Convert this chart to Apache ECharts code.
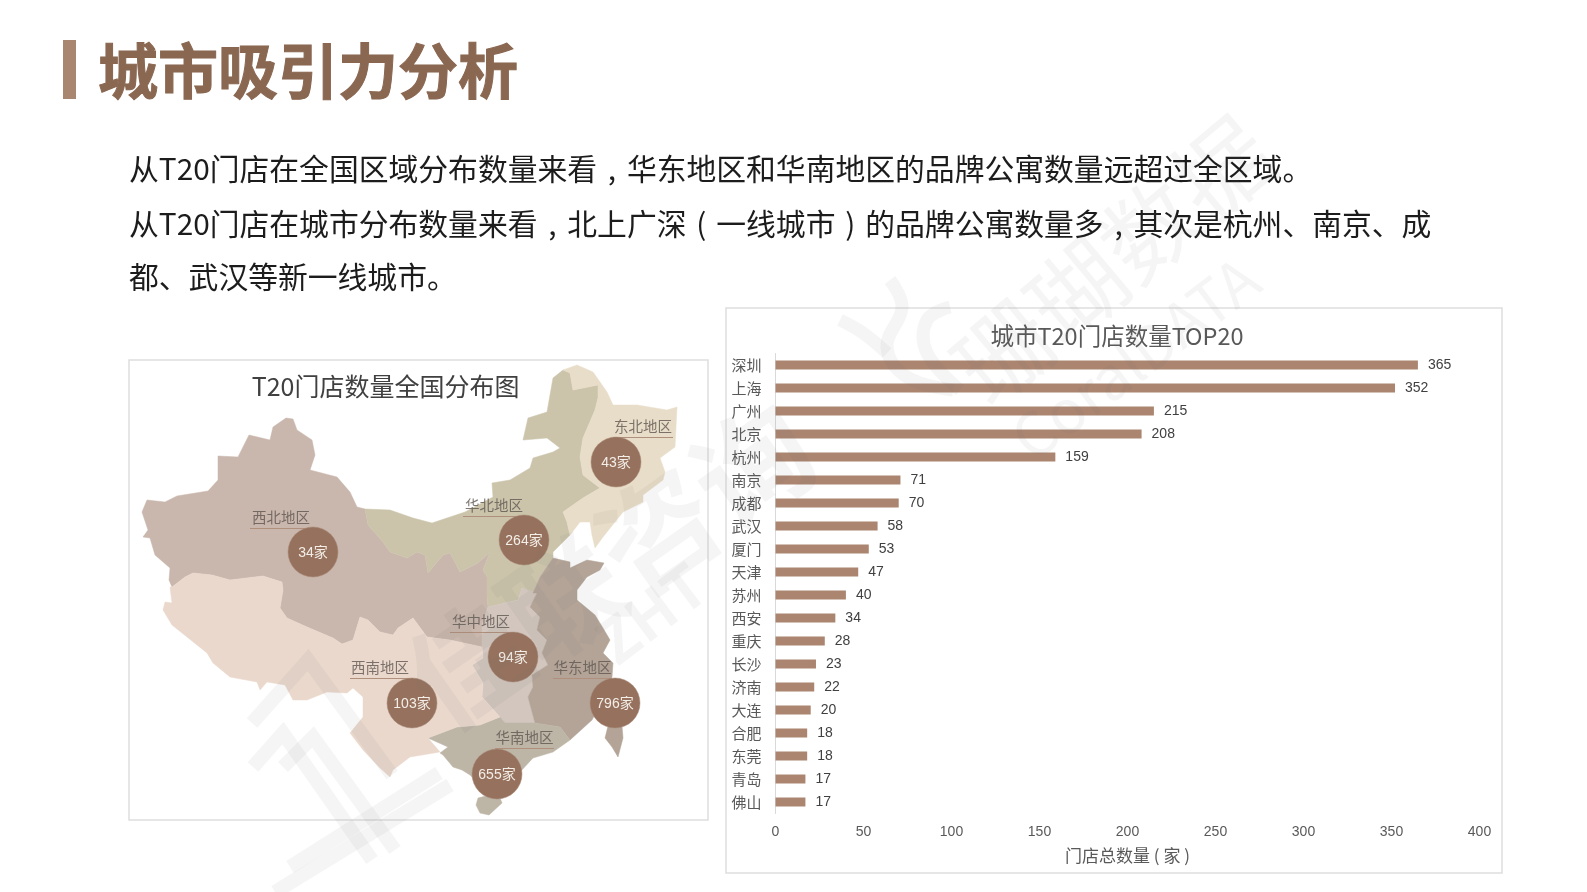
<!DOCTYPE html>
<html>
<head>
<meta charset="utf-8">
<title>城市吸引力分析</title>
<style>
html, body { margin: 0; padding: 0; background: #fff; }
#main { width: 1587px; height: 892px; }
</style>
</head>
<body>
<div id="main"></div>
<script src="https://cdn.jsdelivr.net/npm/echarts@6/dist/echarts.min.js"></script>
<script>
// 城市门店数量
var cities = ['深圳','上海','广州','北京','杭州','南京','成都','武汉','厦门','天津','苏州','西安','重庆','长沙','济南','大连','合肥','东莞','青岛','佛山'];
var cityCounts = [365,352,215,208,159,71,70,58,53,47,40,34,28,23,22,20,18,18,17,17];

// 区域门店数量
var regions = ['西北地区','华北地区','东北地区','华中地区','华东地区','华南地区','西南地区'];
var regionCounts = [34,264,43,94,796,655,103];

var xTickMin = 0, xTickMax = 400, xTickStep = 50;

var CJK = '"Noto Sans CJK SC", sans-serif';
var LATIN = '"Liberation Sans", "Noto Sans CJK SC", sans-serif';

// map geometry, own coordinate system (x right, y down), y gets flipped for geo below
var regionColors = {
    '西北地区': '#c9b6ac', '华北地区': '#cbc4ab', '东北地区': '#e8ddc8', '华中地区': '#d2c6be',
    '华东地区': '#b3a497', '华南地区': '#bdb5a6', '西南地区': '#ead8cc'
};
var regionShapes = {
    '西北地区': [[[147,500],[165,502],[177,496],[208,491],[218,480],[218,456],[238,457],[249,435],[270,440],[273,427],[286,418],[293,419],[297,430],[312,440],[315,455],[310,470],[337,477],[350,492],[357,507],[365,509],[368,525],[383,542],[390,552],[407,558],[417,552],[425,555],[428,573],[443,555],[450,553],[460,572],[478,563],[490,552],[483,570],[487,577],[487,597],[488,607],[482,625],[482,647],[450,640],[427,637],[413,618],[398,628],[393,635],[380,632],[368,620],[360,617],[353,640],[342,644],[333,638],[307,627],[287,618],[280,608],[283,590],[282,582],[263,576],[230,580],[212,575],[193,573],[185,577],[172,587],[169,580],[170,568],[155,555],[150,538],[143,537],[148,530],[142,512]]],
    '华北地区': [[[365,509],[390,510],[413,518],[432,523],[447,518],[465,512],[493,497],[492,483],[510,480],[530,468],[533,458],[553,452],[560,448],[547,438],[523,440],[528,418],[547,412],[553,378],[563,370],[570,373],[573,390],[598,385],[598,398],[595,410],[583,438],[580,457],[583,475],[600,488],[583,498],[563,512],[567,522],[570,535],[553,552],[553,558],[540,577],[533,593],[522,588],[518,600],[488,607],[487,597],[487,577],[483,570],[490,552],[478,563],[460,572],[450,553],[443,555],[428,573],[425,555],[417,552],[407,558],[390,552],[383,542],[368,525]]],
    '东北地区': [[[563,370],[577,365],[593,372],[607,392],[613,405],[637,405],[667,410],[677,407],[675,447],[660,458],[665,472],[663,480],[643,495],[643,502],[623,512],[603,537],[595,548],[592,535],[590,522],[580,522],[570,535],[567,522],[563,512],[583,498],[600,488],[583,475],[580,457],[583,438],[595,410],[598,398],[598,385],[573,390],[570,373]]],
    '华中地区': [[[488,607],[518,600],[522,588],[537,593],[530,607],[540,617],[537,630],[547,640],[542,653],[548,665],[532,675],[533,687],[528,697],[535,723],[505,723],[500,717],[482,697],[483,683],[472,665],[483,658],[482,647],[482,625]]],
    '华东地区': [[[553,558],[570,562],[570,568],[587,560],[604,563],[600,570],[587,577],[577,590],[577,600],[595,615],[603,628],[610,640],[603,653],[613,663],[612,677],[605,690],[600,705],[592,720],[570,740],[560,727],[535,723],[528,697],[533,687],[532,675],[548,665],[542,653],[547,640],[537,630],[540,617],[530,607],[537,593],[533,593],[540,577]],
        [[608,726],[622,726],[623,738],[618,757],[612,747],[605,738]]],
    '华南地区': [[[428,738],[457,727],[480,725],[500,717],[505,723],[535,723],[560,727],[570,740],[553,752],[533,758],[520,772],[505,785],[485,790],[470,775],[462,770],[453,767],[443,755],[440,753],[448,747]],
        [[478,798],[498,793],[502,803],[489,815],[480,813],[476,805]]],
    '西南地区': [[[172,587],[185,577],[193,573],[212,575],[230,580],[263,576],[282,582],[283,590],[280,608],[287,618],[307,627],[333,638],[342,644],[353,640],[360,617],[368,620],[380,632],[393,635],[398,628],[413,618],[427,637],[450,640],[482,647],[483,658],[472,665],[483,683],[482,697],[500,717],[480,725],[457,727],[428,738],[440,752],[410,757],[393,770],[390,777],[380,768],[363,750],[350,733],[363,717],[363,697],[353,688],[347,693],[327,692],[307,700],[293,700],[285,685],[267,682],[260,690],[257,682],[230,677],[213,663],[207,653],[187,637],[172,625],[163,610],[165,602],[172,603],[170,587]]]
};
var bubblePlaces = {
    '西北地区': [313,552], '华北地区': [524,540], '东北地区': [616,462], '华中地区': [513,657],
    '华东地区': [615,703], '华南地区': [497,774], '西南地区': [412,703]
};
// 标签下划线 [x1, x2, y]
var labelLines = {
    '西北地区': [250,312,528], '华北地区': [463,525,516], '东北地区': [613,673,437], '华中地区': [450,512,632],
    '华东地区': [553,612,678], '华南地区': [495,554,748], '西南地区': [350,410,678]
};

// pixel outline -> geojson, flip y
var minX = 9999, maxX = 0, minY = 9999, maxY = 0;
var features = regions.map(function (name) {
    var polys = regionShapes[name].map(function (ring) {
        var r = ring.map(function (p) {
            minX = Math.min(minX, p[0]); maxX = Math.max(maxX, p[0]);
            minY = Math.min(minY, p[1]); maxY = Math.max(maxY, p[1]);
            return [p[0], -p[1]];
        });
        r.push(r[0]);
        return [r];
    });
    return { type: 'Feature', properties: { name: name }, geometry: { type: 'MultiPolygon', coordinates: polys } };
});
echarts.registerMap('regions', { type: 'FeatureCollection', features: features });

var mainChart = echarts.init(document.getElementById('main'));

var bubbleData = regions.map(function (name, i) {
    var p = bubblePlaces[name];
    return { name: name, value: [p[0], -p[1], regionCounts[i]] };
});
var underlineData = regions.map(function (name) {
    var l = labelLines[name];
    return { coords: [[l[0], -l[2]], [l[1], -l[2]]] };
});
var labelData = regions.map(function (name) {
    var l = labelLines[name];
    return { name: name, value: [(l[0] + l[1]) / 2, -l[2]] };
});

var wmColor = 'rgba(110,110,110,0.07)';
function wmLine(points, width, smooth) {
    return { type: 'polyline', silent: true, z: 100, shape: { points: points, smooth: smooth || 0 }, style: { stroke: wmColor, lineWidth: width, fill: null } };
}
function wmText(text, x, y, size, rot, weight) {
    return {
        type: 'text', silent: true, z: 100, x: x, y: y, rotation: rot * Math.PI / 180,
        style: { text: text, fontSize: size, fontWeight: weight || 'normal', fontFamily: CJK, fill: wmColor, align: 'center', verticalAlign: 'middle' }
    };
}
// 逗号和括号在原图里是居中的
function bodyLine(text, y) {
    return {
        type: 'text', x: 129, y: y, z: 5,
        style: {
            text: text, fontSize: 29.8, fontFamily: CJK, fill: '#1c1c1c', verticalAlign: 'middle',
            rich: { p: { width: 29.8, align: 'center', fontSize: 29.8, fontFamily: CJK, fill: '#1c1c1c' } }
        }
    };
}

option = {
    animation: false,
    title: [
        { text: 'T20门店数量全国分布图', left: 385.6, top: 374, padding: 0, textAlign: 'center', textStyle: { fontSize: 25, fontWeight: 'normal', fontFamily: CJK, color: '#404040' } },
        { text: '城市T20门店数量TOP20', left: 1117, top: 324, padding: 0, textAlign: 'center', textStyle: { fontSize: 23.5, fontWeight: 'normal', fontFamily: CJK, color: '#595959' } }
    ],
    graphic: [
        { type: 'rect', z: 0, shape: { x: 63, y: 40, width: 13, height: 59 }, style: { fill: '#a98670' } },
        { type: 'text', x: 98, y: 71, z: 5, style: { text: '城市吸引力分析', fontSize: 60, fontWeight: 'bold', fontFamily: CJK, fill: '#8a6751', stroke: '#8a6751', lineWidth: 1, verticalAlign: 'middle' } },
        bodyLine('从T20门店在全国区域分布数量来看{p|,}华东地区和华南地区的品牌公寓数量远超过全区域。', 169),
        bodyLine('从T20门店在城市分布数量来看{p|,}北上广深{p|(}一线城市{p|)}的品牌公寓数量多{p|,}其次是杭州、南京、成', 224),
        bodyLine('都、武汉等新一线城市。', 277),
        { type: 'rect', z: 0, shape: { x: 129, y: 360, width: 579, height: 460 }, style: { fill: 'none', stroke: '#dedede', lineWidth: 1.5 } },
        { type: 'rect', z: 0, shape: { x: 726, y: 308, width: 776, height: 565 }, style: { fill: 'none', stroke: '#dedede', lineWidth: 1.5 } },
        // 水印
        wmText('珊瑚数据', 1113, 260, 95, 40),
        wmText('CoralDATA', 1135, 358, 60, 37),
        wmText('佳联咨询', 610, 565, 116, 35, 'bold'),
        wmText('ZHT', 651, 613, 60, 37, 'bold'),
        wmLine([[252,723],[308,660],[392,775]], 14),
        wmLine([[253,767],[283,733],[372,860]], 14),
        wmLine([[283,767],[313,737],[395,850]], 14),
        wmLine([[290,867],[439,773]], 14),
        wmLine([[275,892],[450,785]], 14),
        wmLine([[890,280],[902,307],[887,347],[907,377],[953,390]], 13, 0.4),
        wmLine([[840,320],[863,333],[887,353]], 13, 0.4),
        wmLine([[950,307],[927,320],[927,353],[960,390]], 13, 0.4)
    ],
    geo: {
        map: 'regions',
        roam: false,
        silent: true,
        aspectScale: 1,
        left: minX, top: minY, width: maxX - minX, height: maxY - minY,
        label: { show: false },
        itemStyle: { borderWidth: 0 },
        regions: regions.map(function (name) {
            return { name: name, itemStyle: { areaColor: regionColors[name], borderColor: regionColors[name], borderWidth: 0.5 } };
        })
    },
    grid: { left: 775.5, top: 353.5, width: 704, height: 460, containLabel: false },
    xAxis: {
        type: 'value',
        min: xTickMin, max: xTickMax, interval: xTickStep,
        name: '门店总数量 ( 家 )',
        nameLocation: 'middle',
        nameGap: 34,
        nameTextStyle: { fontSize: 17, color: '#595959', fontFamily: CJK },
        axisLine: { show: false },
        axisTick: { show: false },
        splitLine: { show: false },
        axisLabel: { fontSize: 14, color: '#595959', fontFamily: LATIN, margin: 12 }
    },
    yAxis: {
        type: 'category',
        inverse: true,
        data: cities,
        axisLine: { show: true, lineStyle: { color: '#d9d9d9' } },
        axisTick: { show: false },
        axisLabel: { fontSize: 15, color: '#595959', fontFamily: CJK, margin: 14 }
    },
    series: [
        {
            name: '门店数量',
            type: 'bar',
            data: cityCounts,
            barWidth: 9,
            itemStyle: { color: '#ab8570' },
            label: { show: true, position: 'right', distance: 10, fontSize: 14, color: '#404040', fontFamily: LATIN }
        },
        {
            name: '下划线',
            type: 'lines',
            coordinateSystem: 'geo',
            silent: true,
            lineStyle: { color: '#b08f7c', width: 1, opacity: 1 },
            data: underlineData,
            z: 3
        },
        {
            name: '区域',
            type: 'scatter',
            coordinateSystem: 'geo',
            silent: true,
            symbolSize: 1,
            itemStyle: { color: 'transparent' },
            label: {
                show: true, position: 'top', distance: 3, fontSize: 14.5, color: '#5f5650', fontFamily: CJK,
                formatter: function (p) { return p.name; }
            },
            data: labelData,
            z: 4
        },
        {
            name: '门店',
            type: 'scatter',
            coordinateSystem: 'geo',
            silent: true,
            symbolSize: 50,
            itemStyle: { color: '#96725e', opacity: 1, borderColor: '#a88a78', borderWidth: 0.5 },
            label: {
                show: true, position: 'inside', offset: [0, 1], fontSize: 14, color: '#f4eee8', fontFamily: LATIN,
                formatter: function (p) { return p.value[2] + '家'; }
            },
            data: bubbleData,
            z: 5
        }
    ]
};

mainChart.setOption(option);
window.onresize = mainChart.resize;
</script>
</body>
</html>
